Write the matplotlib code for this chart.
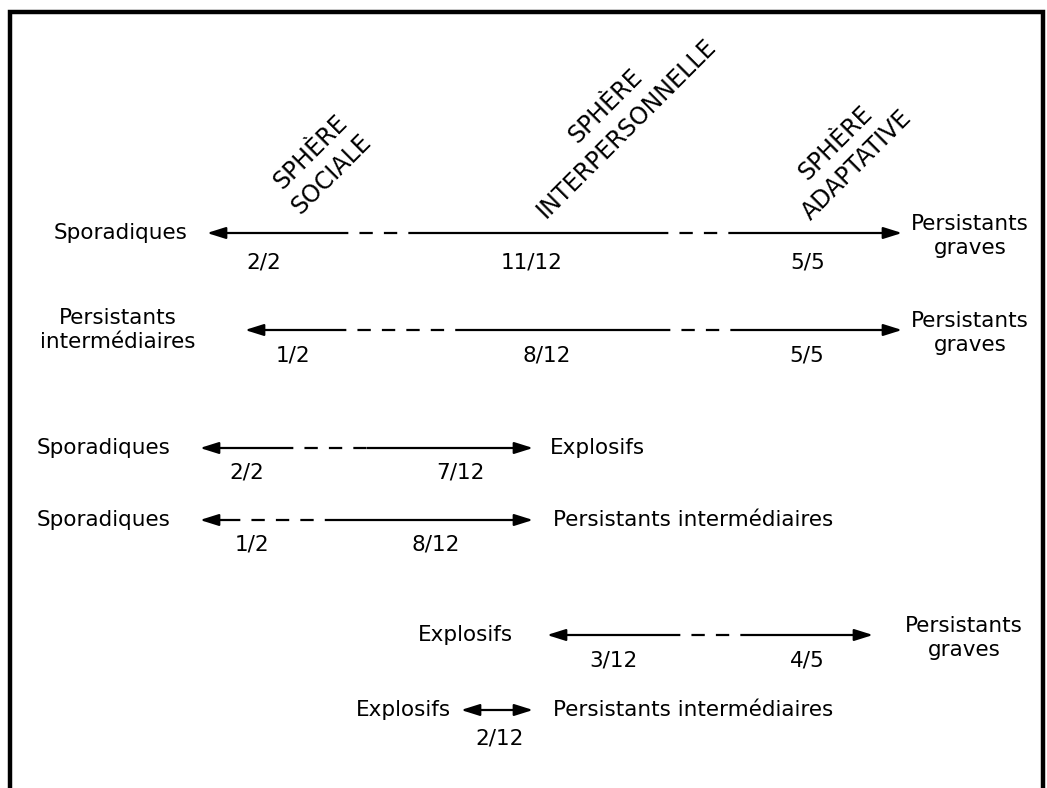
import matplotlib.pyplot as plt

plt.rcParams['font.family'] = ['DejaVu Sans']

# --- content ---------------------------------------------------------------
sphere_labels = ['SPHÈRE\nSOCIALE', 'SPHÈRE\nINTERPERSONNELLE', 'SPHÈRE\nADAPTATIVE']

left_labels = ['Sporadiques', 'Persistants\nintermédiaires', 'Sporadiques',
               'Sporadiques', 'Explosifs', 'Explosifs']
right_labels = ['Persistants\ngraves', 'Persistants\ngraves', 'Explosifs',
                'Persistants intermédiaires', 'Persistants\ngraves',
                'Persistants intermédiaires']
fractions = [['2/2', '11/12', '5/5'],
             ['1/2', '8/12', '5/5'],
             ['2/2', '7/12'],
             ['1/2', '8/12'],
             ['3/12', '4/5'],
             ['2/12']]

# --- layout (pixel coordinates of the 1047x788 page) -----------------------
sphere_xy = [(321, 163), (616, 117), (846, 154)]
row_y = [233, 330, 448, 520, 635, 710]
arrow_x0 = [207, 245, 200, 200, 547, 461]
arrow_x1 = [902, 902, 533, 533, 873, 533]
dashed_spans = [[(335, 420), (655, 740)],
                [(333, 460), (657, 740)],
                [(280, 367)],
                [(227, 327)],
                [(667, 753)],
                []]
left_x = [121, 118, 104, 104, 465, 403]
right_x = [970, 970, 550, 553, 964, 553]
right_ha = ['center', 'center', 'left', 'left', 'center', 'left']
frac_x = [[264, 532, 808], [293, 547, 807], [247, 460], [252, 436], [613, 807], [500]]
frac_y = [262, 355, 472, 545, 660, 738]

fs = 15.5
lw = 1.6

fig = plt.figure(figsize=(10.47, 7.88), dpi=100)
ax = fig.add_axes([0, 0, 1, 1])
ax.set_xlim(0, 1047)
ax.set_ylim(788, 0)
ax.axis('off')

# frame
ax.plot([10, 10, 1043, 1043], [788, 12, 12, 788], color='black', lw=3.2,
        solid_joinstyle='miter', clip_on=False)

for txt, (x, y) in zip(sphere_labels, sphere_xy):
    ax.text(x, y, txt, rotation=45, rotation_mode='anchor', ha='center',
            va='center', multialignment='center', fontsize=17, linespacing=1.35)

for i, y in enumerate(row_y):
    x0, x1 = arrow_x0[i], arrow_x1[i]
    # solid / dashed pieces of the shaft
    cuts = [x0 + 10] + [v for span in dashed_spans[i] for v in span] + [x1 - 10]
    for k in range(0, len(cuts) - 1):
        style = '-' if k % 2 == 0 else (0, (6, 5))
        ax.plot([cuts[k], cuts[k + 1]], [y, y], color='black', lw=lw,
                linestyle=style, solid_capstyle='butt', dash_capstyle='butt')
    # arrow heads
    for tip, base in [(x0, x0 + 12), (x1, x1 - 12)]:
        ax.annotate('', xy=(tip, y), xytext=(base, y),
                    arrowprops=dict(arrowstyle='-|>,head_length=0.7,head_width=0.22',
                                    color='black', lw=lw, shrinkA=0, shrinkB=0,
                                    mutation_scale=16))

    ax.text(left_x[i], y, left_labels[i], ha='center', va='center',
            multialignment='center', fontsize=fs, linespacing=1.25)
    ax.text(right_x[i], y + (3 if right_ha[i] == 'center' else 0), right_labels[i],
            ha=right_ha[i], va='center', multialignment='center',
            fontsize=fs, linespacing=1.25)
    for lab, fx in zip(fractions[i], frac_x[i]):
        ax.text(fx, frac_y[i], lab, ha='center', va='center', fontsize=fs)

fig.savefig('out.png', dpi=100, facecolor='white')
